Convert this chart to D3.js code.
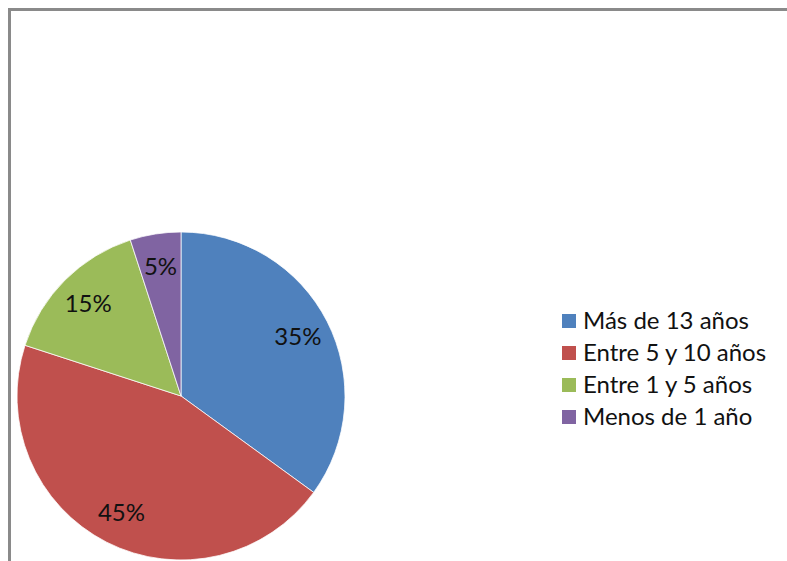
<!DOCTYPE html>
<html>
<head>
<meta charset="utf-8">
<script src="https://cdn.jsdelivr.net/npm/d3@7"></script>
<style>
  body { margin: 0; background: #fff; }
  svg { display: block; }
</style>
</head>
<body>
<svg id="chart"></svg>
<script>
// chart data
const categories = ["Más de 13 años", "Entre 5 y 10 años", "Entre 1 y 5 años", "Menos de 1 año"];
const values = [35, 45, 15, 5];
const colors = ["#4F81BD", "#C0504D", "#9BBB59", "#8064A2"];

const width = 787;
const height = 561;

const svg = d3.select("#chart")
    .attr("width", width)
    .attr("height", height)
    .style("font-family", "Lato, 'Open Sans', sans-serif");

// chart frame (cut off at right and bottom)
svg.append("rect")
    .attr("x", 9.5)
    .attr("y", 9.5)
    .attr("width", width + 20)
    .attr("height", height + 20)
    .attr("fill", "none")
    .attr("stroke", "#8a8a8a")
    .attr("stroke-width", 3);

const cx = 181, cy = 396, radius = 164;

const color = d3.scaleOrdinal().domain(categories).range(colors);

const pie = d3.pie().sort(null).value(d => d.value);
const arcs = pie(categories.map((c, i) => ({ name: c, value: values[i] })));

const arc = d3.arc().innerRadius(0).outerRadius(radius);
const labelArc = d3.arc().innerRadius(radius * 0.8).outerRadius(radius * 0.8);

const g = svg.append("g").attr("transform", `translate(${cx},${cy})`);

g.selectAll("path")
    .data(arcs)
    .enter().append("path")
    .attr("d", arc)
    .attr("fill", d => color(d.data.name))
    .attr("stroke", "#ffffff")
    .attr("stroke-width", 0.75);

g.selectAll("text")
    .data(arcs)
    .enter().append("text")
    .attr("transform", d => `translate(${labelArc.centroid(d)})`)
    .attr("text-anchor", "middle")
    .attr("dy", "0.35em")
    .style("font-size", "24px")
    .style("fill", "#111")
    .text(d => d.data.value + "%");

// legend
const legend = svg.append("g")
    .attr("transform", "translate(562, 321)");

const items = legend.selectAll(".legend-item")
    .data(categories)
    .enter().append("g")
    .attr("class", "legend-item")
    .attr("transform", (d, i) => `translate(0, ${i * 32})`);

items.append("rect")
    .attr("y", -7)
    .attr("width", 14)
    .attr("height", 14)
    .attr("fill", color);

items.append("text")
    .attr("x", 21)
    .attr("dy", "0.35em")
    .style("font-size", "24px")
    .style("fill", "#111")
    .text(d => d);
</script>
</body>
</html>
